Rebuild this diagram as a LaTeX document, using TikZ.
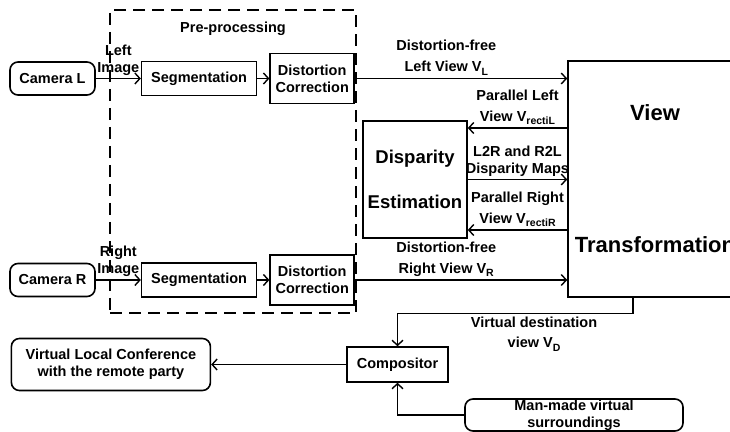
\documentclass[tikz,border=0pt]{standalone}
\usepackage{fontspec}
\setmainfont{Liberation Sans}
\usetikzlibrary{positioning,arrows.meta}
\tikzset{
	>={Straight Barb[length=5pt,width=11pt]},
}

\begin{document}
\begin{tikzpicture}[
		x=1pt,y=1pt,
		font=\bfseries\fontsize{14.5}{17}\selectfont,
		box/.style={
			rectangle, draw, line width=1.6pt,
			inner sep=0pt, align=center,
		},
		cam/.style={box, rounded corners=8pt, minimum width=85pt, minimum height=33pt},
		seg/.style={box, minimum width=115pt, minimum height=34pt},
		corr/.style={box, minimum width=84pt, minimum height=50pt},
		group/.style={
			draw, line width=1.6pt, dash pattern=on 12pt off 7pt,
			minimum width=246pt, minimum height=303pt,
		},
		lbl/.style={align=center, inner sep=2.5pt},
		wire/.style={->, line width=1.4pt},
	]
	\def\vsub#1{V\raisebox{-3.5pt}{\fontsize{10.5}{11}\selectfont #1}}
	\path[use as bounding box, clip] (0,0) rectangle (730,431);
	\draw
		node(pre)[group] at (233,269.5) {}
		node(prelbl)[below=9pt of pre.north] {Pre-processing}
		node(camL)[cam] at (52.5,352.5) {Camera L}
		node(segL)[seg, right=45pt of camL] {Segmentation}
		node(dcL)[corr, right=12pt of segL] {Distortion\\Correction}
		node(camR)[cam] at (52.5,151) {Camera R}
		node(segR)[seg, right=45pt of camR] {Segmentation}
		node(dcR)[corr, right=12pt of segR] {Distortion\\Correction}
		node(view)[box, minimum width=174pt, minimum height=236pt,
			font=\bfseries\fontsize{22}{26}\selectfont] at (655,252) {%
			View\\[106pt]Transformation}
		node(disp)[box, minimum width=104pt, minimum height=117pt,
			font=\bfseries\fontsize{18.5}{22}\selectfont] at (415,251.5) {%
			Disparity\\[23pt]Estimation}
		node(comp)[box, minimum width=101pt, minimum height=35pt] at (397.5,66.5) {Compositor}
		node(vlc)[cam, minimum width=199pt, minimum height=52pt, left=135pt of comp] {%
			Virtual Local Conference\\with the remote party}
		node(man)[cam, minimum width=218pt, minimum height=32pt] at (574,16) {%
			Man-made virtual\\surroundings}
	;
	\draw[wire] (camL) -- (segL) node[lbl, above, midway] {Left\\Image};
	\draw[wire] (segL) -- (dcL);
	\draw[wire] (camR) -- (segR) node[lbl, above, midway] {Right\\Image};
	\draw[wire] (segR) -- (dcR);
	\draw[wire] (dcL.east) -- (dcL.east -| view.west)
		node[lbl, above, pos=0.43] {Distortion-free\\[4pt]Left View \vsub{L}};
	\draw[wire] ([yshift=51pt]view.west) -- ([yshift=51pt]view.west -| disp.east)
		node[lbl, above, midway] {Parallel Left\\[4pt]View \vsub{rectiL}};
	\draw[wire] (disp.east) -- (disp.east -| view.west)
		node[lbl, above, midway] {L2R and R2L\\Disparity Maps};
	\draw[wire] ([yshift=-51pt]view.west) -- ([yshift=-51pt]view.west -| disp.east)
		node[lbl, above, midway] {Parallel Right\\[4pt]View \vsub{rectiR}};
	\draw[wire] (dcR.east) -- (dcR.east -| view.west)
		node[lbl, above, pos=0.43] {Distortion-free\\[4pt]Right View \vsub{R}};
	\draw[wire] ([xshift=-22pt]view.south) -- ++(0,-16) -| (comp.north)
		node[lbl, below, pos=0.21] {Virtual destination\\[3pt]view \vsub{D}};
	\draw[wire] (comp.west) -- (comp.west -| vlc.east);
	\draw[wire] (man.west) -| (comp.south);
\end{tikzpicture}
\end{document}
